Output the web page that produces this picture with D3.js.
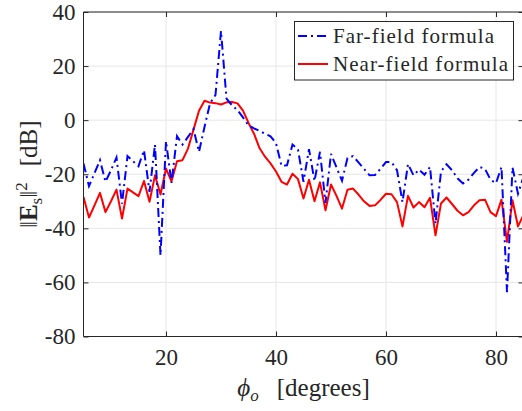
<!DOCTYPE html>
<html><head><meta charset="utf-8">
<script src="https://cdn.jsdelivr.net/npm/d3@7"></script>
<style>
body{margin:0;background:#fff;}
text{font-family:"Liberation Serif","DejaVu Serif",serif;fill:#262626;}
</style></head><body>
<svg id="c" width="522" height="411"></svg>
<script>
const phi = d3.range(5, 86);
const farField = [-16,-24.4,-19.6,-14.8,-22.8,-18.5,-13.8,-30.9,-13.3,-15.2,
 -17,-11.1,-26.5,-9,-50,-7.8,-23.2,-5.9,-9,-6.2,
 -3.3,-11.7,-2.5,6.2,9.3,33,8,5.5,3.7,1,
 -1.9,-3,-4,-5,-6,-8.5,-16.9,-16.7,-9,-10.9,
 -22.8,-10.7,-22.5,-11.7,-30.6,-12.5,-17.5,-22.4,-14,-13.3,
 -15.6,-18,-20.4,-20.3,-18,-15.5,-15.5,-18.5,-30.3,-16.2,
 -20.4,-18.3,-20.2,-17.3,-38.3,-19,-16.3,-18.5,-21.5,-23.4,
 -22,-19.5,-17.3,-18,-22,-23.3,-17.3,-63.6,-17.5,-27.2,-21];
const nearField = [-28.4,-36,-31.5,-26.9,-34,-30,-25.7,-36.4,-25.3,-26.7,
 -28.1,-22.5,-30.2,-20.4,-27.5,-17.9,-22.6,-15.2,-14.8,-10.5,
 -3.5,3.5,7.2,6.5,6.3,5.8,6.6,6.7,6.2,3.5,
 -1,-5,-10.3,-13.5,-16,-19,-22.8,-23.8,-19.8,-21.8,
 -29,-22,-30,-23,-33.3,-23.8,-28,-32.7,-25.7,-25.3,
 -27.5,-30,-31.7,-31.5,-29.5,-27.2,-27.4,-30.3,-39.3,-28,
 -32.3,-30.3,-32.2,-28.7,-42.6,-30.8,-28.6,-31,-33.5,-35.2,
 -34,-31.5,-29.6,-29.4,-34,-35.5,-29.4,-45,-29.6,-39.3,-35];
const xTicks = [20,40,60,80];
const yTicks = [-80,-60,-40,-20,0,20,40];
const legendLabels = ["Far-field formula","Near-field formula"];

const svg = d3.select("#c");
const L=83.5, R=523.5, T=12, B=336.5;
const x = d3.scaleLinear().domain([5,85]).range([L,R]);
const y = d3.scaleLinear().domain([-80,40]).range([B,T]);
const axisCol="#262626";

// grid
const g = svg.append("g");
g.selectAll(".gx").data(xTicks).join("line")
 .attr("x1",d=>x(d)).attr("x2",d=>x(d)).attr("y1",T).attr("y2",B)
 .attr("stroke","#e6e6e6").attr("stroke-width",1);
g.selectAll(".gy").data(yTicks).join("line")
 .attr("y1",d=>y(d)).attr("y2",d=>y(d)).attr("x1",L).attr("x2",R)
 .attr("stroke","#e6e6e6").attr("stroke-width",1);

// lines
svg.append("defs").append("clipPath").attr("id","clip").append("rect")
 .attr("x",L).attr("y",T).attr("width",R-L).attr("height",B-T);
const line = d3.line().x((d,i)=>x(phi[i])).y(d=>y(d));
const pg = svg.append("g").attr("clip-path","url(#clip)");
pg.append("path").datum(nearField).attr("d",line).attr("fill","none")
 .attr("stroke","#ff0000").attr("stroke-width",2).attr("stroke-linejoin","round");
pg.append("path").datum(farField).attr("d",line).attr("fill","none")
 .attr("stroke","#0000ff").attr("stroke-width",2).attr("stroke-dasharray","9,4,2,4");

// axes
const ax = svg.append("g");
const xb = d3.axisBottom(x).tickValues(xTicks).tickSize(-5).tickPadding(12).tickFormat(d3.format("d"));
const xt = d3.axisTop(x).tickValues(xTicks).tickSize(-5).tickFormat("");
const yl = d3.axisLeft(y).tickValues(yTicks).tickSize(-5).tickPadding(8).tickFormat(d=>d<0?"-"+Math.abs(d):d);
const yr = d3.axisRight(y).tickValues(yTicks).tickSize(-5).tickFormat("");
function style(sel){sel.select(".domain").attr("stroke",axisCol);sel.selectAll(".tick line").attr("stroke",axisCol);
 sel.selectAll("text").attr("font-size",23).attr("fill",axisCol).attr("font-family","Liberation Serif, serif");}
ax.append("g").attr("transform",`translate(0,${B})`).call(xb).call(style).call(s=>s.select(".domain").attr("d",`M${L},0H${R}`));
ax.append("g").attr("transform",`translate(0,${T})`).call(xt).call(style).call(s=>s.select(".domain").attr("d",`M${L},0H${R}`));
ax.append("g").attr("transform",`translate(${L},0)`).call(yl).call(style).call(s=>s.select(".domain").attr("d",`M0,${T}V${B}`));
ax.append("g").attr("transform",`translate(${R},0)`).call(yr).call(style).call(s=>s.select(".domain").attr("d",`M0,${T}V${B}`));

// x label
const xl = svg.append("text").attr("x",(L+R)/2).attr("y",396).attr("text-anchor","middle").attr("font-size",25);
xl.append("tspan").attr("font-style","italic").text("ϕ");
xl.append("tspan").attr("font-style","italic").attr("font-size",17).attr("dy",5).text("o");
xl.append("tspan").attr("dy",-5).attr("dx",18).text("[degrees]");

// y label
const ylab = svg.append("text").attr("transform",`translate(37,${(T+B)/2}) rotate(-90)`)
 .attr("text-anchor","middle").attr("font-size",25);
ylab.append("tspan").text("‖");
ylab.append("tspan").attr("font-weight","bold").text("E");
ylab.append("tspan").attr("font-size",17).attr("dy",5).text("s");
ylab.append("tspan").attr("dy",-5).text("‖");
ylab.append("tspan").attr("font-size",17).attr("dy",-10).text("2");
ylab.append("tspan").attr("dy",10).attr("dx",16).text("[dB]");

// legend
const lg = svg.append("g");
lg.append("rect").attr("x",294.5).attr("y",21.5).attr("width",219).attr("height",58.5)
 .attr("fill","#fff").attr("stroke",axisCol).attr("stroke-width",1);
const styles=[{c:"#0000ff",d:"9,4,2,4",w:161},{c:"#ff0000",d:null,w:175}];
legendLabels.forEach((t,i)=>{
 const yy = 36 + i*28;
 lg.append("line").attr("x1",298).attr("x2",328).attr("y1",yy).attr("y2",yy)
  .attr("stroke",styles[i].c).attr("stroke-width",2).attr("stroke-dasharray",styles[i].d);
 lg.append("text").attr("x",333).attr("y",yy+7).attr("font-size",21)
  .attr("textLength",styles[i].w).attr("lengthAdjust","spacing").text(t);
});
</script></body></html>
